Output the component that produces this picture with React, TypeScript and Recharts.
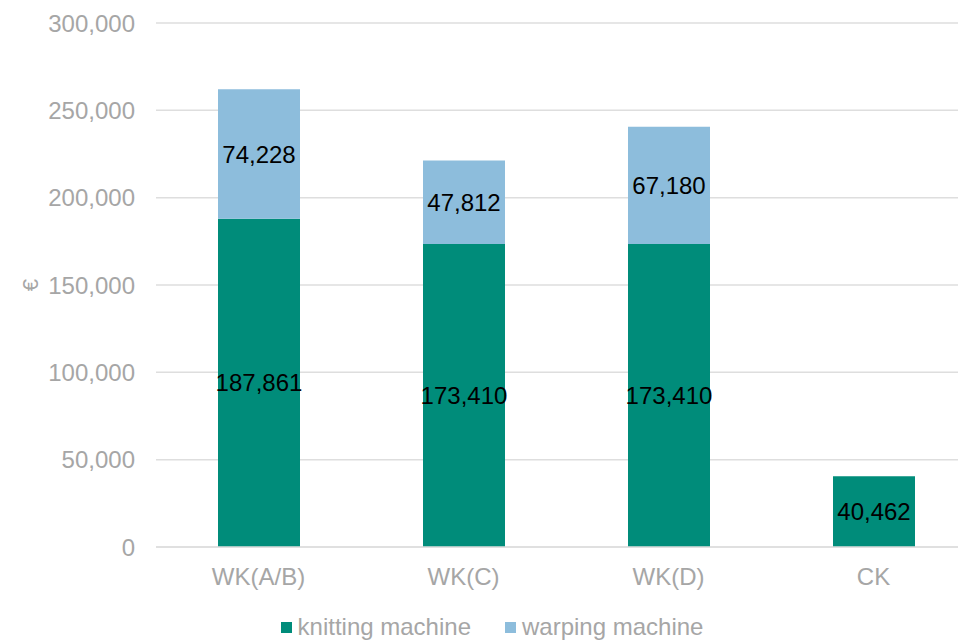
import React from 'react';
import { BarChart, Bar, XAxis, YAxis, CartesianGrid, Legend, LabelList } from 'recharts';

const categories = ['WK(A/B)', 'WK(C)', 'WK(D)', 'CK'];
const knittingValues = [187861, 173410, 173410, 40462];
const warpingValues: (number | null)[] = [74228, 47812, 67180, null];
const yTicks = [0, 50000, 100000, 150000, 200000, 250000, 300000];
const seriesNames = ['knitting machine', 'warping machine'];
const seriesColors = ['#008C7A', '#8DBDDC'];

const data = categories.map((c, i) => ({
  name: c,
  knitting: knittingValues[i],
  warping: warpingValues[i],
}));

const FONT = '"Liberation Sans", Arial, sans-serif';
const GRAY = '#A6A6A6';

const fmt = (v: any) => (v == null ? '' : Number(v).toLocaleString('en-US'));

const renderLegend = () => (
  <div
    style={{
      display: 'flex',
      justifyContent: 'center',
      gap: 34,
      fontSize: 24,
      color: GRAY,
      fontFamily: FONT,
      lineHeight: '28px',
    }}
  >
    {seriesNames.map((n, i) => (
      <span key={n} style={{ display: 'flex', alignItems: 'center' }}>
        <span
          style={{
            display: 'inline-block',
            width: 11,
            height: 11,
            background: seriesColors[i],
            marginRight: 6,
          }}
        />
        {n}
      </span>
    ))}
  </div>
);

export default function App() {
  return (
    <div style={{ width: 958, height: 633, overflow: 'hidden', fontFamily: FONT }}>
      <BarChart
        width={974}
        height={633}
        data={data}
        margin={{ top: 15, right: 6, left: 0, bottom: 0 }}
        barSize={82}
      >
        <CartesianGrid vertical={false} stroke="#DEDEDE" strokeWidth={1.5} />
        <XAxis
          dataKey="name"
          height={66}
          axisLine={{ stroke: '#DEDEDE', strokeWidth: 1.5 }}
          tickLine={false}
          tickMargin={15}
          tick={{ fill: GRAY, fontSize: 24, fontFamily: FONT }}
        />
        <YAxis
          width={148}
          domain={[0, 300000]}
          ticks={yTicks}
          axisLine={false}
          tickLine={false}
          tickMargin={15}
          tickFormatter={fmt}
          tick={{ fill: GRAY, fontSize: 24, fontFamily: FONT }}
          label={{
            value: '€',
            angle: -90,
            position: 'insideLeft',
            offset: 22,
            style: { fill: GRAY, fontSize: 22, fontFamily: FONT, textAnchor: 'middle' },
          }}
        />
        <Legend verticalAlign="bottom" content={renderLegend} />
        <Bar dataKey="knitting" name={seriesNames[0]} stackId="a" fill={seriesColors[0]} isAnimationActive={false}>
          <LabelList dataKey="knitting" position="center" formatter={fmt} fill="#000" fontSize={24} fontFamily={FONT} />
        </Bar>
        <Bar dataKey="warping" name={seriesNames[1]} stackId="a" fill={seriesColors[1]} isAnimationActive={false}>
          <LabelList dataKey="warping" position="center" formatter={fmt} fill="#000" fontSize={24} fontFamily={FONT} />
        </Bar>
      </BarChart>
    </div>
  );
}
